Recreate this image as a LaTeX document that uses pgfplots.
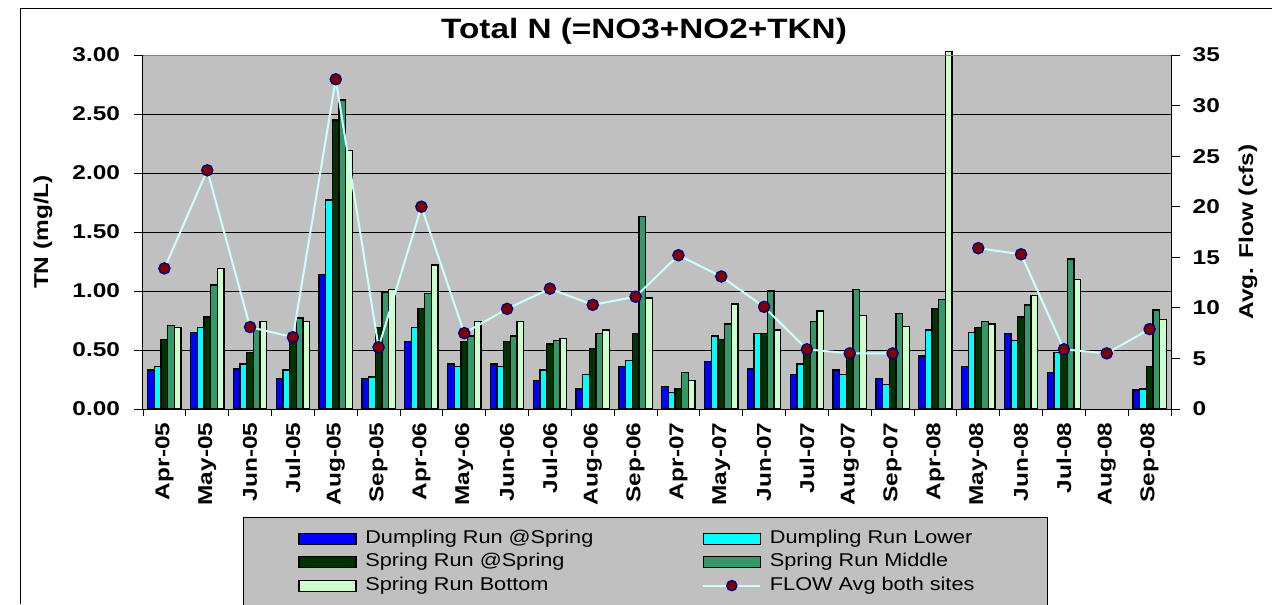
\documentclass[border=0pt]{standalone}
\usepackage{pgfplots}
\pgfplotsset{compat=1.18}
\usepackage{pgfplotstable}
\usepackage{fontspec}
\setmainfont{Liberation Sans}
\newfontfamily\widefont[FakeStretch=1.22]{Liberation Sans}
\newfontfamily\titlefont[FakeStretch=1.19]{Liberation Sans}
\newfontfamily\legfont[FakeStretch=1.17]{Liberation Sans}
\newcommand\tickf{\widefont\bfseries\fontsize{15}{18}\selectfont}

\definecolor{chartgray}{HTML}{C0C0C0}
\definecolor{drs}{HTML}{0000FF}
\definecolor{drl}{HTML}{00FFFF}
\definecolor{srs}{HTML}{003300}
\definecolor{srm}{HTML}{339966}
\definecolor{srb}{HTML}{CCFFCC}
\definecolor{flowline}{HTML}{CCFFFF}
\definecolor{mfill}{HTML}{800000}
\definecolor{medge}{HTML}{000080}

\pgfplotstableread{
x drs drl srs srm srb
0 0.33 0.36 0.59 0.71 0.69
1 0.65 0.69 0.78 1.05 1.19
2 0.34 0.38 0.48 0.68 0.74
3 0.26 0.33 0.62 0.77 0.74
4 1.14 1.77 2.45 2.62 2.19
5 0.26 0.27 0.69 0.99 1.01
6 0.57 0.69 0.85 0.98 1.22
7 0.38 0.36 0.57 0.62 0.74
8 0.38 0.36 0.57 0.62 0.74
9 0.24 0.33 0.55 0.58 0.60
10 0.17 0.29 0.51 0.64 0.67
11 0.36 0.41 0.64 1.63 0.94
12 0.19 0.14 0.17 0.31 0.24
13 0.40 0.62 0.59 0.72 0.89
14 0.34 0.64 0.64 1.00 0.67
15 0.29 0.38 0.50 0.74 0.83
16 0.33 0.29 0.50 1.01 0.79
17 0.26 0.21 0.47 0.81 0.70
18 0.45 0.67 0.85 0.93 3.03
19 0.36 0.65 0.69 0.74 0.72
20 0.64 0.58 0.78 0.88 0.96
21 0.31 0.48 0.52 1.27 1.10
22 nan nan nan nan nan
23 0.16 0.17 0.36 0.84 0.76
}\bardata

\pgfplotstableread{
x flow
0 13.9
1 23.6
2 8.1
3 7.1
4 32.6
5 6.1
6 20.0
7 7.5
8 9.9
9 11.9
10 10.3
11 11.1
12 15.2
13 13.1
14 10.1
15 5.9
16 5.5
17 5.5
18 nan
19 15.9
20 15.3
21 5.9
22 5.5
23 7.9
}\flowdata

\pgfplotsset{
  barleg/.style={legend image code/.code={\draw[##1,line width=1pt] (0pt,-0.75pt) rectangle (42.75pt,7.5pt);}},
  flowleg/.style={legend image code/.code={\draw[##1,sharp plot,mark repeat=2,mark phase=2] plot coordinates {(0pt,3.4pt) (21.4pt,3.4pt) (42.75pt,3.4pt)};}},
}

\begin{document}
\begin{tikzpicture}
\useasboundingbox (-107.25pt,-146.25pt) rectangle (846.75pt,306.75pt);
\draw[black,line width=0.75pt] (-91.5pt,-146.25pt) -- (-91.5pt,300pt) -- (846.75pt,300pt);

\begin{axis}[
  scale only axis, width=771pt, height=265.5pt,
  xmin=-0.5, xmax=23.5, ymin=0, ymax=3,
  axis background/.style={fill=chartgray},
  axis line style={draw=none},
  ybar=0pt, bar width=5pt,
  clip=false,
  ytick={0,0.5,1,1.5,2,2.5,3},
  yticklabel style={font=\tickf,xshift=-7pt,/pgf/number format/.cd,fixed,fixed zerofill,precision=2,assume math mode=true},
  ymajorgrids, major grid style={black,line width=0.6pt},
  xtick={0,...,23},
  xticklabels={Apr-05,May-05,Jun-05,Jul-05,Aug-05,Sep-05,Apr-06,May-06,Jun-06,Jul-06,Aug-06,Sep-06,Apr-07,May-07,Jun-07,Jul-07,Aug-07,Sep-07,Apr-08,May-08,Jun-08,Jul-08,Aug-08,Sep-08},
  minor xtick={-0.5,0.5,...,23.5},
  major x tick style={draw=none},
  minor x tick style={black,line width=0.6pt},
  major y tick style={black,line width=0.6pt},
  minor tick length=5.25pt,
  major tick length=6.75pt,
  tick align=outside,
  tick pos=left,
  x tick label style={rotate=90,anchor=east,font=\tickf},
  ylabel={TN (mg/L)},
  every axis y label/.style={at={(axis description cs:-0.0973,0.5)},rotate=90,anchor=center,font=\tickf},
  title={Total N (=NO3+NO2+TKN)},
  title style={at={(axis description cs:0.4874,1.0234)},anchor=base,font=\titlefont\bfseries\fontsize{21}{25}\selectfont},
  legend columns=2,
  legend style={at={(axis description cs:0.0973,-0.305)},anchor=north west,fill=chartgray,draw=black,
    inner xsep=41.25pt,inner ysep=9pt,font=\legfont\fontsize{13.9}{16}\selectfont,
    nodes={inner xsep=0pt,inner ysep=0pt,text height=10.5pt,text depth=3pt,anchor=base west},
    row sep=4.1pt,
    /tikz/every odd column/.append style={column sep=6.5pt}},
]
\addplot[fill=drs,draw=black,line width=1pt,barleg] table[x=x,y=drs]{\bardata};
\addlegendentry{\makebox[252.75pt][l]{Dumpling Run @Spring}}
\addplot[fill=drl,draw=black,line width=1pt,barleg] table[x=x,y=drl]{\bardata};
\addlegendentry{\makebox[167pt][l]{Dumpling Run Lower}}
\addplot[fill=srs,draw=black,line width=1pt,barleg] table[x=x,y=srs]{\bardata};
\addlegendentry{\makebox[252.75pt][l]{Spring Run @Spring}}
\addplot[fill=srm,draw=black,line width=1pt,barleg] table[x=x,y=srm]{\bardata};
\addlegendentry{\makebox[167pt][l]{Spring Run Middle}}
\addplot[fill=srb,draw=black,line width=1pt,barleg] table[x=x,y=srb]{\bardata};
\addlegendentry{\makebox[252.75pt][l]{Spring Run Bottom}}
\addlegendimage{sharp plot,flowline,line width=1.5pt,mark=*,mark size=3.8pt,mark options={fill=mfill,draw=medge,line width=1pt},flowleg}
\addlegendentry{\makebox[167pt][l]{FLOW Avg both sites}}
\draw[black,line width=0.75pt] (rel axis cs:0,1) -- (rel axis cs:0,0) -- (rel axis cs:1,0);
\draw[gray,line width=0.75pt] (rel axis cs:0,1) -- (rel axis cs:1,1);
\end{axis}

\begin{axis}[
  scale only axis, width=771pt, height=265.5pt,
  xmin=-0.5, xmax=23.5, ymin=0, ymax=35,
  axis x line=none, axis y line*=right,
  y axis line style={black,line width=0.75pt,-},
  ytick={0,5,10,15,20,25,30,35},
  yticklabel style={font=\tickf,xshift=6pt,/pgf/number format/assume math mode=true},
  major y tick style={black,line width=0.6pt},
  major tick length=6.75pt,
  tick align=outside,
  unbounded coords=jump,
  ylabel={Avg. Flow (cfs)},
  every axis y label/.style={at={(axis description cs:1.0749,0.5)},rotate=90,anchor=center,font=\tickf},
]
\addplot[flowline,line width=1.5pt,mark=*,mark size=4.2pt,mark options={fill=mfill,draw=medge,line width=1pt}] table[x=x,y=flow]{\flowdata};
\end{axis}
\end{tikzpicture}
\end{document}
